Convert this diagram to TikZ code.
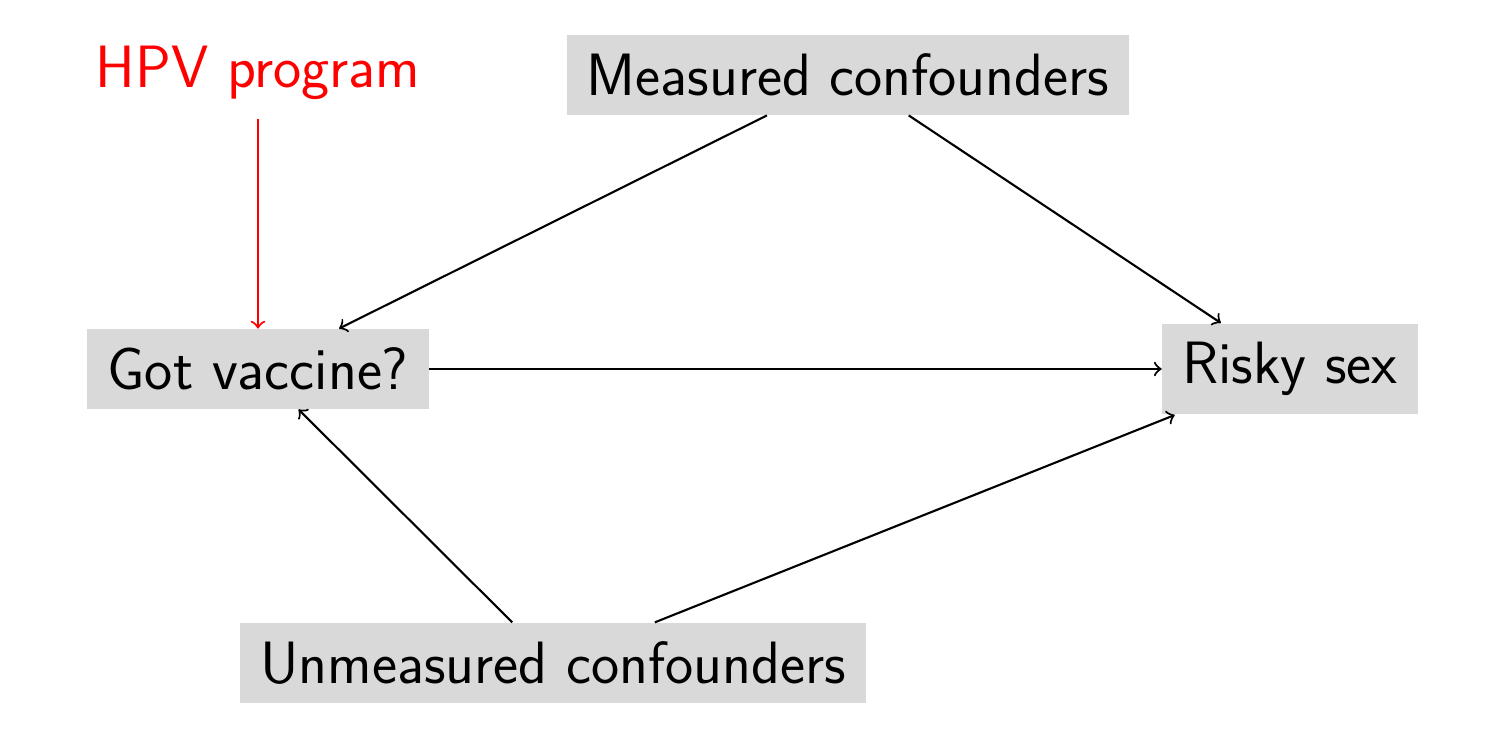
\documentclass[tikz,border=0pt]{standalone}
\usepackage{tikz}

\begin{document}
\begin{tikzpicture}[box/.style={fill=black!15,inner xsep=0.2cm,inner ysep=0.185cm},
  lbl/.style={inner xsep=0.2cm,inner ysep=0.185cm},font=\sffamily\fontsize{17}{20}\selectfont]
\useasboundingbox (0,0)rectangle(14.98,7.3);
\node[lbl,text=red] (hpv) at (2.58,6.57) {HPV program};
\node[box] (meas) at (8.48,6.55) {Measured confounders};
\node[box] (vac) at (2.58,3.61) {Got vaccine?};
\node[box] (risk) at (12.9,3.61) {Risky sex};
\node[box] (unmeas) at (5.53,0.67) {Unmeasured confounders};
\draw[->,red,semithick] (hpv)--(vac);
\draw[->,semithick] (meas)--(vac);
\draw[->,semithick] (meas)--(risk);
\draw[->,semithick] (vac)--(risk);
\draw[->,semithick] (unmeas)--(vac);
\draw[->,semithick] (unmeas)--(risk);
\end{tikzpicture}
\end{document}
